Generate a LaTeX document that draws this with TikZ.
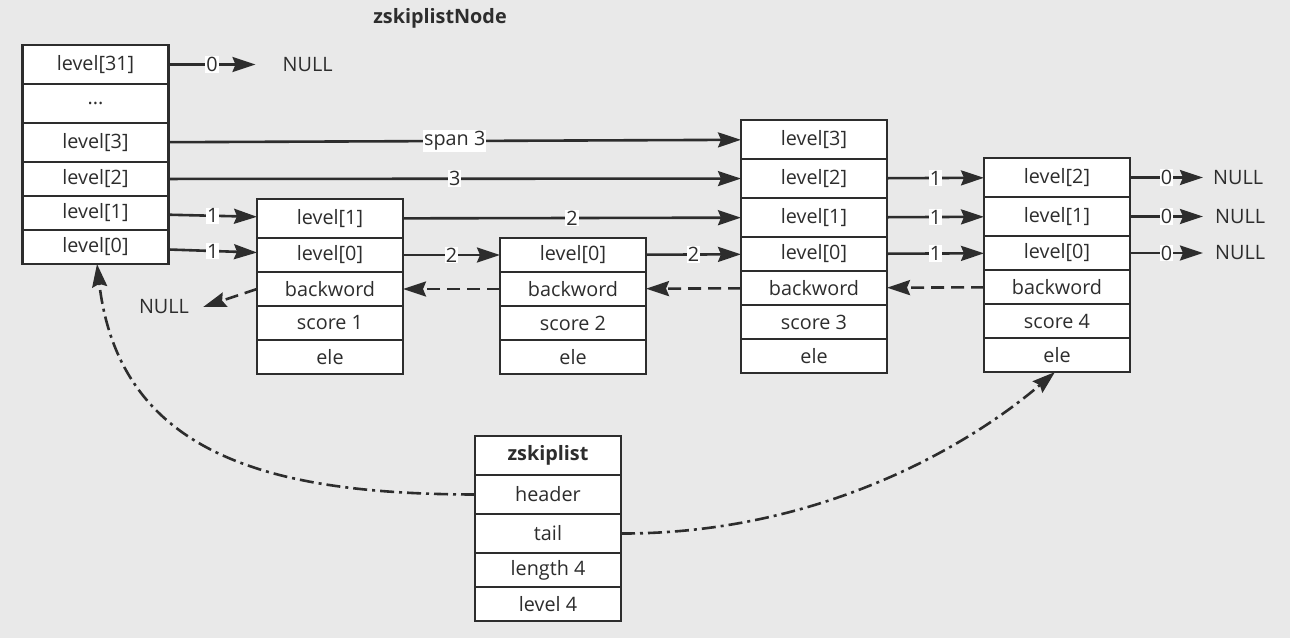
\documentclass[tikz,border=0pt]{standalone}
\usepackage{fontspec}
\setmainfont{Open Sans}
\usetikzlibrary{positioning,arrows.meta}
\definecolor{bg}{RGB}{233,233,233}
\definecolor{ink}{RGB}{45,45,45}

\begin{document}
\begin{tikzpicture}[
                x=1pt, y=-1pt,
                font=\fontsize{19.8}{23}\selectfont,
                every node/.append style={text=ink},
                cell/.style={draw=ink,fill=white,line width=2.6pt,minimum width=146pt,minimum height=34pt,inner sep=0pt,outer sep=0pt},
                tall/.style={cell,minimum height=39pt},
                nil/.style={inner ysep=6pt,inner xsep=12pt},
                num/.style={fill=white,inner sep=1pt},
                fwd/.style={draw=ink,line width=2.6pt,-{Stealth[length=23pt,width=15pt,inset=3pt]}},
                bwd/.style={fwd,dash pattern=on 13pt off 7pt},
                ptr/.style={fwd,dash pattern=on 14pt off 5pt on 3pt off 5pt}
            ]
                \fill[bg] (0,0) rectangle (1290,638);
                \useasboundingbox (0,0) rectangle (1290,638);
                \node (title) [font=\fontsize{19.8}{23}\selectfont\bfseries] at (440,18) {zskiplistNode};
                % header node
                \node (h31) [tall,anchor=north] at (95.5,45) {level[31]};
                \node (hdots) [tall,below=0pt of h31] {...};
                \node (h3) [tall,below=0pt of hdots] {level[3]};
                \node (h2) [cell,below=0pt of h3] {level[2]};
                \node (h1) [cell,below=0pt of h2] {level[1]};
                \node (h0) [cell,below=0pt of h1] {level[0]};
                % node 1
                \node (a1) [tall,anchor=north] at (330,199) {level[1]};
                \node (a0) [cell,below=0pt of a1] {level[0]};
                \node (ab) [cell,below=0pt of a0] {backword};
                \node (as) [cell,below=0pt of ab] {score 1};
                \node (ae) [cell,below=0pt of as] {ele};
                % node 2
                \node (b0) [cell,anchor=north] at (573,238) {level[0]};
                \node (bb) [cell,below=0pt of b0] {backword};
                \node (bs) [cell,below=0pt of bb] {score 2};
                \node (be) [cell,below=0pt of bs] {ele};
                % node 3
                \node (c3) [tall,anchor=north] at (814,120) {level[3]};
                \node (c2) [tall,below=0pt of c3] {level[2]};
                \node (c1) [tall,below=0pt of c2] {level[1]};
                \node (c0) [cell,below=0pt of c1] {level[0]};
                \node (cb) [cell,below=0pt of c0] {backword};
                \node (cs) [cell,below=0pt of cb] {score 3};
                \node (ce) [cell,below=0pt of cs] {ele};
                % node 4
                \node (d2) [tall,anchor=north] at (1057,158) {level[2]};
                \node (d1) [tall,below=0pt of d2] {level[1]};
                \node (d0) [cell,below=0pt of d1] {level[0]};
                \node (db) [cell,below=0pt of d0] {backword};
                \node (ds) [cell,below=0pt of db] {score 4};
                \node (de) [cell,below=0pt of ds] {ele};
                % zskiplist
                \node (zt) [tall,anchor=north,font=\fontsize{19.8}{23}\selectfont\bfseries] at (548,436) {zskiplist};
                \node (zh) [tall,below=0pt of zt] {header};
                \node (ztl) [tall,below=0pt of zh] {tail};
                \node (zl) [cell,below=0pt of ztl] {length 4};
                \node (zv) [cell,below=0pt of zl] {level 4};
                % NULL ends
                \node (nul31) [nil,inner xsep=27pt,right=87pt of h31] {NULL};
                \node (nul2) [nil,inner xsep=10pt,right=73pt of d2] {NULL};
                \node (nul1) [nil,right=73pt of d1] {NULL};
                \node (nul0) [nil,right=73pt of d0] {NULL};
                \node (nulb) [nil,inner xsep=14pt] at (164,307) {NULL};
                % forward pointers
                \draw[fwd] (h31) -- node[num]{0} (nul31);
                \draw[fwd] (h3) -- node[num]{span 3} (c3);
                \draw[fwd] (h2) -- node[num]{3} (c2);
                \draw[fwd] (h1) -- node[num]{1} (a1);
                \draw[fwd] (h0) -- node[num]{1} (a0);
                \draw[fwd] (a1) -- node[num]{2} (c1);
                \draw[fwd] (a0) -- node[num]{2} (b0);
                \draw[fwd] (b0) -- node[num]{2} (c0);
                \draw[fwd] (c2) -- node[num]{1} (d2);
                \draw[fwd] (c1) -- node[num]{1} (d1);
                \draw[fwd] (c0) -- node[num]{1} (d0);
                \draw[fwd] (d2) -- node[num]{0} (nul2);
                \draw[fwd] (d1) -- node[num]{0} (nul1);
                \draw[fwd] (d0) -- node[num]{0} (nul0);
                % backward pointers
                \foreach \s/\t in {db/cb,cb/bb,bb/ab}
                    \draw[bwd] (\s) -- (\t);
                \draw[bwd] (ab.west) -- (nulb.east);
                % header and tail
                \draw[ptr] (zh.west) .. controls (280,494) and (120,460) .. ([xshift=1.5pt]h0.south);
                \draw[ptr] (ztl.east) .. controls (820,534) and (970,445) .. ([xshift=-2pt]de.south);
            \end{tikzpicture}
\end{document}
